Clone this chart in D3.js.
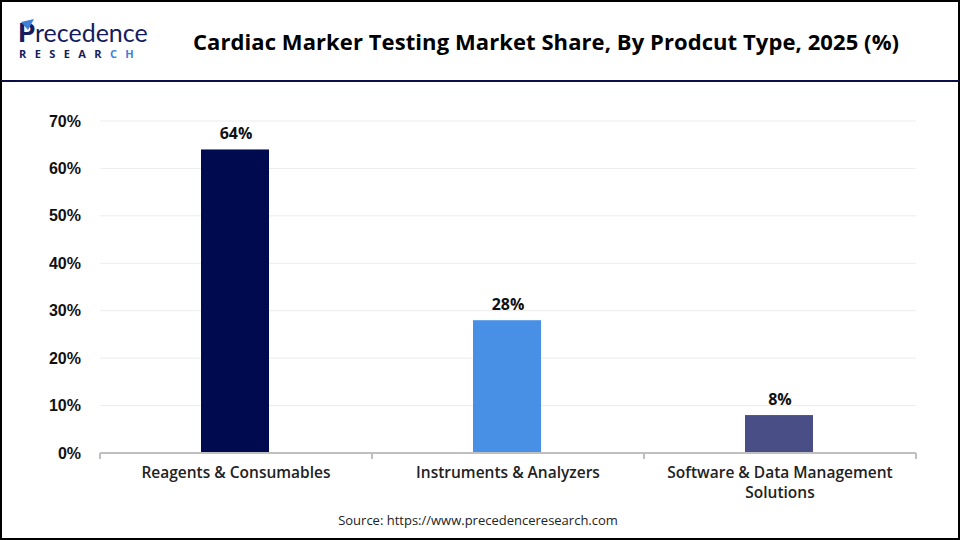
<!DOCTYPE html>
<html>
<head>
<meta charset="utf-8">
<script src="https://cdn.jsdelivr.net/npm/d3@7"></script>
<style>
  body { margin: 0; background: #fff; }
  svg { display: block; font-family: "Open Sans", "Noto Sans", sans-serif; }
</style>
</head>
<body>
<div id="chart"></div>
<script>
// Chart values
const categories = ["Reagents & Consumables", "Instruments & Analyzers", "Software & Data Management Solutions"];
const shares = [64, 28, 8];
const barColors = ["#000a4e", "#4790e6", "#4a4e86"];
const yTicks = [0, 10, 20, 30, 40, 50, 60, 70];

const W = 960, H = 540;
const margin = {top: 121, right: 44, bottom: 87, left: 100};
const width = W - margin.left - margin.right;
const height = H - margin.top - margin.bottom;

const svg = d3.select("#chart")
    .append("svg")
    .attr("width", W)
    .attr("height", H);

// Outer frame and header rule
svg.append("rect")
    .attr("x", 1).attr("y", 1)
    .attr("width", W - 2).attr("height", H - 2)
    .attr("fill", "none")
    .attr("stroke", "#000")
    .attr("stroke-width", 2);

svg.append("line")
    .attr("x1", 1).attr("x2", W - 1)
    .attr("y1", 81).attr("y2", 81)
    .attr("stroke", "#0a0f4a")
    .attr("stroke-width", 2);

// Logo
const logo = svg.append("g").attr("transform", "translate(18,0)");
const word = logo.append("text")
    .attr("x", 0).attr("y", 42)
    .style("font-family", "Lato, 'Open Sans', sans-serif")
    .style("font-size", "25px")
    .style("fill", "#161c5c");
word.append("tspan").style("font-weight", "900").style("font-size", "27px").text("P");
word.append("tspan").text("recedence");
logo.append("path")
    .attr("d", "M3,22 L16,19 L10,30 Z")
    .attr("fill", "#3f7fd8");
const research = logo.append("text")
    .attr("x", 1).attr("y", 58)
    .style("font-size", "11px")
    .style("font-weight", "700")
    .style("letter-spacing", "8.4px")
    .style("fill", "#161c5c");
research.append("tspan").text("RESEAR");
research.append("tspan").style("fill", "#3f7fd8").text("CH");

// Title
svg.append("text")
    .attr("x", 546).attr("y", 50)
    .attr("text-anchor", "middle")
    .attr("textLength", 706)
    .style("font-size", "22px")
    .style("font-weight", "700")
    .style("fill", "#000")
    .text("Cardiac Marker Testing Market Share, By Prodcut Type, 2025 (%)");

const g = svg.append("g")
    .attr("transform", `translate(${margin.left},${margin.top})`);

// Scales
const x = d3.scaleBand()
    .domain(categories)
    .range([0, width])
    .padding(0);

const y = d3.scaleLinear()
    .domain([0, 70])
    .range([height, 0]);

const barW = x.bandwidth() * 0.25;

// Gridlines
g.selectAll(".grid")
    .data(yTicks.filter(d => d > 0))
    .enter()
    .append("line")
    .attr("x1", 0).attr("x2", width)
    .attr("y1", d => y(d)).attr("y2", d => y(d))
    .attr("stroke", "#ececec")
    .attr("stroke-width", 1);

// Y axis labels
const yAxis = g.append("g")
    .call(d3.axisLeft(y).tickValues(yTicks).tickFormat(d => d + "%").tickSize(0).tickPadding(19));
yAxis.select(".domain").remove();
yAxis.selectAll("text")
    .style("font-size", "16px")
    .style("font-weight", "700")
    .style("fill", "#111");

// Bars
g.selectAll(".bar")
    .data(categories)
    .enter()
    .append("rect")
    .attr("class", "bar")
    .attr("x", d => x(d) + (x.bandwidth() - barW) / 2 - 1)
    .attr("width", barW)
    .attr("y", (d, i) => y(shares[i]))
    .attr("height", (d, i) => height - y(shares[i]))
    .attr("fill", (d, i) => barColors[i]);

// Value labels
g.selectAll(".label")
    .data(categories)
    .enter()
    .append("text")
    .attr("class", "label")
    .attr("x", d => x(d) + x.bandwidth() / 2)
    .attr("y", (d, i) => y(shares[i]) - 10)
    .attr("text-anchor", "middle")
    .style("font-size", "16px")
    .style("font-weight", "700")
    .style("fill", "#111")
    .text((d, i) => shares[i] + "%");

// X axis line with boundary ticks
g.append("line")
    .attr("x1", 0).attr("x2", width)
    .attr("y1", height).attr("y2", height)
    .attr("stroke", "#bfbfbf")
    .attr("stroke-width", 2);

const bounds = [0].concat(categories.map(c => x(c) + x.bandwidth()));
g.selectAll(".xtick")
    .data(bounds)
    .enter()
    .append("line")
    .attr("x1", d => d).attr("x2", d => d)
    .attr("y1", height).attr("y2", height + 6)
    .attr("stroke", "#bfbfbf")
    .attr("stroke-width", 2);

// Category labels (wrapped)
const wrapLines = {
    "Software & Data Management Solutions": ["Software & Data Management", "Solutions"]
};
const catLabels = g.selectAll(".cat")
    .data(categories)
    .enter()
    .append("text")
    .attr("class", "cat")
    .attr("x", d => x(d) + x.bandwidth() / 2)
    .attr("y", height + 25)
    .attr("text-anchor", "middle")
    .style("font-size", "15.5px")
    .style("font-weight", "600")
    .style("fill", "#222");
catLabels.each(function(d) {
    const lines = wrapLines[d] || [d];
    const t = d3.select(this);
    lines.forEach((ln, i) => {
        t.append("tspan")
            .attr("x", x(d) + x.bandwidth() / 2)
            .attr("dy", i === 0 ? 0 : 20)
            .text(ln);
    });
});

// Source
svg.append("text")
    .attr("x", 478).attr("y", 525)
    .attr("text-anchor", "middle")
    .style("font-size", "13px")
    .style("fill", "#222")
    .text("Source: https://www.precedenceresearch.com");
</script>
</body>
</html>
